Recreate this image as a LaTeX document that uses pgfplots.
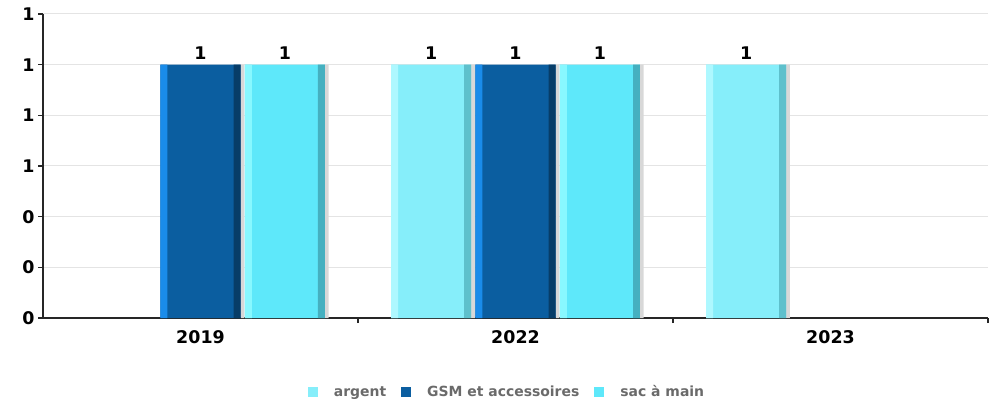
\documentclass[border=0pt]{standalone}
\usepackage{pgfplots}
\pgfplotsset{compat=1.18}
\usepackage{fontspec}
\setmainfont{DejaVu Sans}
\definecolor{argentF}{HTML}{86EEFA}
\definecolor{argentL}{HTML}{AEF8FF}
\definecolor{argentD}{HTML}{5EC0CC}
\definecolor{gsmF}{HTML}{0B5EA0}
\definecolor{gsmL}{HTML}{1A8CEA}
\definecolor{gsmD}{HTML}{073D68}
\definecolor{sacF}{HTML}{5EE8FA}
\definecolor{sacL}{HTML}{88F8FF}
\definecolor{sacD}{HTML}{45B0C0}
\definecolor{shadowc}{HTML}{D8D8D8}
\definecolor{gridc}{HTML}{E4E4E4}
\definecolor{legtext}{HTML}{6A6A6A}
\pgfplotstableread{
x y
1 1
2 1
}\argent
\pgfplotstableread{
x y
0 1
1 1
}\gsm
\pgfplotstableread{
x y
0 1
1 1
}\sac
\pgfplotsset{
  strip/.style 2 args={draw=none, fill=#1, bar width=0.022, bar shift=#2, forget plot},
  shadow/.style={draw=none, fill=shadowc, bar width=0.012, bar shift=#1, forget plot},
}
\begin{document}
\begin{tikzpicture}
\begin{axis}[
  name=ax,
  scale only axis,
  width=945bp, height=304bp,
  xmin=-0.5, xmax=2.5,
  ymin=0, ymax=1.2,
  ybar,
  bar width=0.254,
  axis lines*=left,
  axis line style={line width=1.4bp, black!85},
  tick align=outside,
  xtick={0,1,2},
  xticklabels={2019,2022,2023},
  major x tick style={draw=none},
  minor xtick={0.5,1.5,2.5},
  minor tick length=5bp,
  minor x tick style={line width=1.2bp, black!85},
  ytick={0,0.2,0.4,0.6,0.8,1.0,1.2},
  yticklabels={0,0,0,1,1,1,1},
  major tick length=5bp,
  major y tick style={line width=1.2bp, black!85},
  ymajorgrids,
  grid style={gridc, line width=1bp},
  /pgf/number format/assume math mode=true,
  tick label style={font=\fontsize{17.5}{19}\selectfont\bfseries, black},
  xticklabel style={yshift=-4bp},
  legend columns=3,
  legend style={at={(axis description cs:0.491,-0.243)}, anchor=center, draw=none, fill=none,
    font=\fontsize{14}{16}\selectfont\bfseries, text=legtext,
    /tikz/every odd column/.append style={column sep=14bp},
    /tikz/every even column/.append style={column sep=13bp}},
  mainbar/.style={draw=none, fill=#1,
    nodes near coords={\pgfmathprintnumber[fixed,precision=0]{\pgfplotspointmeta}},
    every node near coord/.append style={font=\fontsize{17.5}{19}\selectfont\bfseries, black, yshift=2bp},
    legend image code/.code={\fill[#1] (0bp,-5bp) rectangle (10bp,5bp);}},
]
% shadows
\addplot[shadow=-0.135] table {\argent};
\addplot[shadow=0.133] table {\gsm};
\addplot[shadow=0.401] table {\sac};
% main bars
\addplot[mainbar=argentF, bar shift=-0.268] table {\argent};
\addlegendentry{argent}
\addplot[mainbar=gsmF, bar shift=0] table {\gsm};
\addlegendentry{GSM et accessoires}
\addplot[mainbar=sacF, bar shift=0.268] table {\sac};
\addlegendentry{sac à main}
% bevel strips
\addplot[strip={argentL}{-0.384}] table {\argent};
\addplot[strip={argentD}{-0.152}] table {\argent};
\addplot[strip={gsmL}{-0.116}] table {\gsm};
\addplot[strip={gsmD}{0.116}] table {\gsm};
\addplot[strip={sacL}{0.152}] table {\sac};
\addplot[strip={sacD}{0.384}] table {\sac};
\end{axis}
\pgfresetboundingbox
\path (ax.south west) ++(-43bp,-86bp) rectangle ([xshift=6bp,yshift=14bp]ax.north east);
\end{tikzpicture}
\end{document}
